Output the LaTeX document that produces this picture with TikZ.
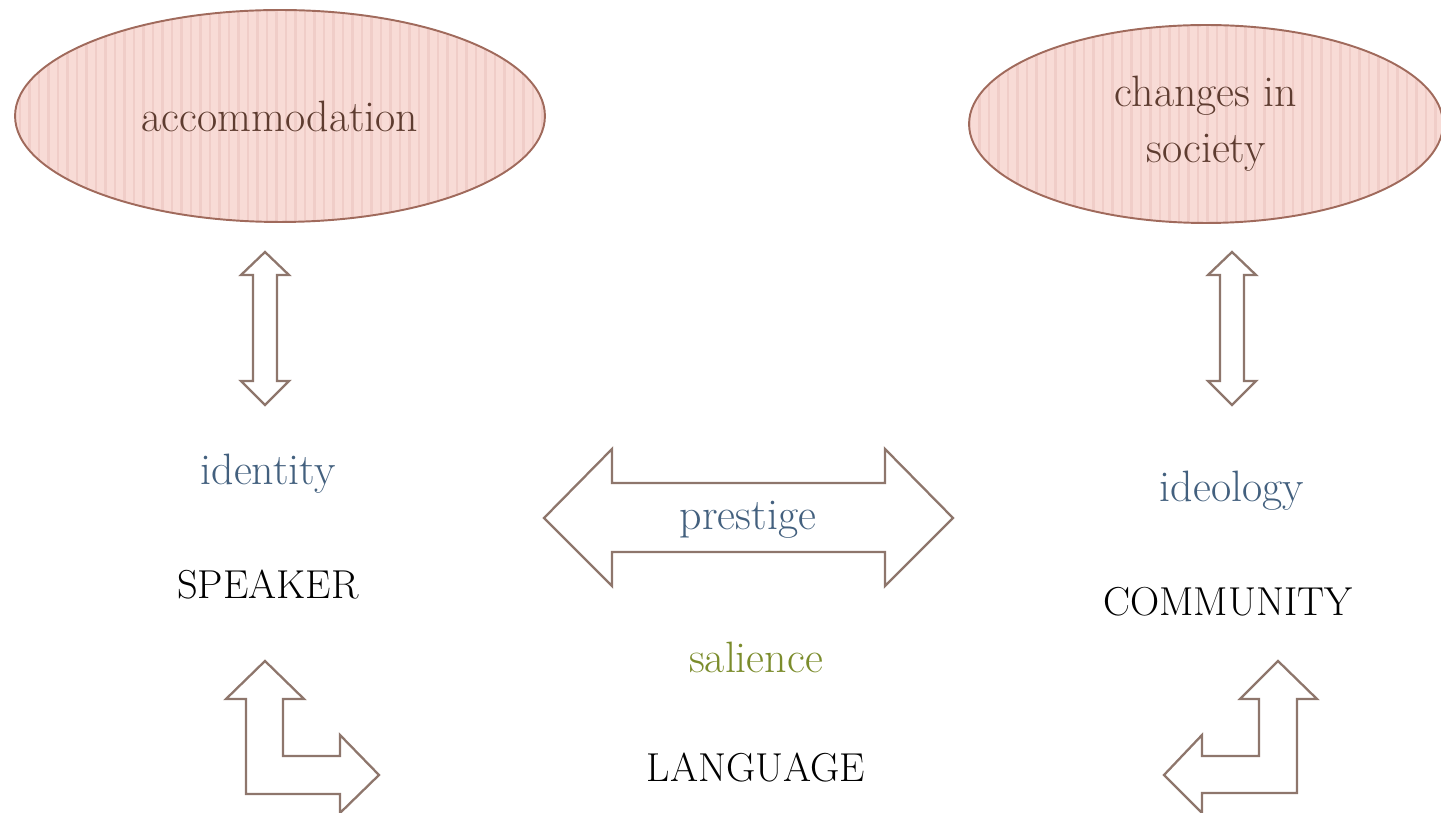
\documentclass[tikz,border=0pt]{standalone}
\usetikzlibrary{shapes.geometric}
\definecolor{bubblefill}{HTML}{F8DBD6}
\definecolor{bubblestripe}{HTML}{F0CDC8}
\definecolor{bubbleline}{HTML}{A06A5C}
\definecolor{bubbletext}{HTML}{5E3C30}
\definecolor{arrowline}{HTML}{8E766C}
\definecolor{keyblue}{HTML}{43607E}
\definecolor{keygreen}{HTML}{7B8C2C}
\begin{document}
\begin{tikzpicture}[x=0.02cm, y=-0.02cm,
    bubble/.style={ellipse, draw=bubbleline, line width=1.1pt, inner sep=0pt, text=bubbletext, align=center, font=\fontsize{25}{32}\selectfont},
    term/.style={font=\fontsize{25}{29}\selectfont},
    capterm/.style={font=\fontsize{23}{27}\selectfont},
    blockarrow/.style={draw=arrowline, line width=1.3pt, fill=white, line join=miter}
  ]
  \useasboundingbox (0,0) rectangle (1441,813);

  % Ellipsen mit Streifen
  \fill[bubblefill] (280,116) ellipse [x radius=5.3cm, y radius=2.12cm];
  \fill[bubblefill] (1206,124) ellipse [x radius=4.74cm, y radius=1.98cm];
  \begin{scope}
    \clip (280,116) ellipse [x radius=5.3cm, y radius=2.12cm];
    \foreach \x in {20,29.5,...,545}
      \draw[bubblestripe, line width=1.2pt] (\x,0) -- (\x,240);
  \end{scope}
  \begin{scope}
    \clip (1206,124) ellipse [x radius=4.74cm, y radius=1.98cm];
    \foreach \x in {970,979.5,...,1441}
      \draw[bubblestripe, line width=1.2pt] (\x,0) -- (\x,240);
  \end{scope}
  \node[bubble, minimum width=10.6cm, minimum height=4.24cm] (accom) at (280,116) {accommodation};
  \node[bubble, minimum width=9.48cm, minimum height=3.96cm] (society) at (1206,124) {changes in\\society};

  % Blockpfeile
  \foreach \cx in {265,1232}
    \draw[blockarrow] (\cx,252) -- ++(24,23) -- ++(-12,0) -- ++(0,106) -- ++(12,0) -- ++(-24,24)
      -- ++(-24,-24) -- ++(12,0) -- ++(0,-106) -- ++(-12,0) -- cycle;
  \draw[blockarrow] (544,518) -- (612,449) -- (612,483) -- (885,483) -- (885,449) -- (953,518)
    -- (885,586) -- (885,552) -- (612,552) -- (612,586) -- cycle;
  \draw[blockarrow] (265,661) -- (304,699) -- (283,699) -- (283,756) -- (340,756) -- (340,735)
    -- (379,775) -- (340,813) -- (340,794) -- (246,794) -- (246,699) -- (226,699) -- cycle;
  \draw[blockarrow] (1278,661) -- (1317,699) -- (1297,699) -- (1297,793) -- (1202,793) -- (1202,813)
    -- (1164,775) -- (1202,735) -- (1202,756) -- (1259,756) -- (1259,699) -- (1240,699) -- cycle;

  % Begriffe
  \node[term, text=keyblue] (identity) at (268,474) {identity};
  \node[capterm] (speaker) at (268,585) {SPEAKER};
  \node[term, text=keyblue] (ideology) at (1232,491) {ideology};
  \node[capterm] (community) at (1228,602) {COMMUNITY};
  \node[term, text=keyblue] (prestige) at (748,520) {prestige};
  \node[term, text=keygreen] (salience) at (756,657) {salience};
  \node[capterm] (language) at (756,768) {LANGUAGE};
\end{tikzpicture}
\end{document}
